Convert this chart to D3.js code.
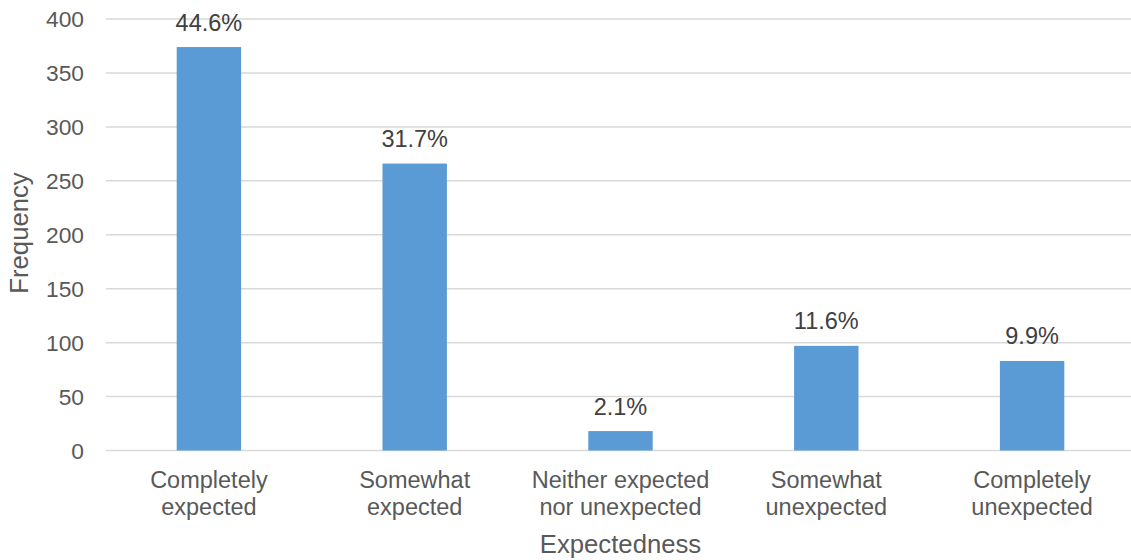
<!DOCTYPE html>
<html>
<head>
<meta charset="utf-8">
<script src="https://cdn.jsdelivr.net/npm/d3@7"></script>
<style>
  html, body { margin: 0; padding: 0; background: #fff; }
  svg { display: block; font-family: "Liberation Sans", Arial, sans-serif; }
</style>
</head>
<body>
<svg id="chart" width="1131" height="560"></svg>
<script>
// Responses by expectedness category
const categories = [
  ["Completely", "expected"],
  ["Somewhat", "expected"],
  ["Neither expected", "nor unexpected"],
  ["Somewhat", "unexpected"],
  ["Completely", "unexpected"]
];
const frequencies = [374, 266, 18, 97, 83];
const percentLabels = ["44.6%", "31.7%", "2.1%", "11.6%", "9.9%"];
const yTicks = [0, 50, 100, 150, 200, 250, 300, 350, 400];

const svg = d3.select("#chart");
const W = 1131, H = 560;
const margin = { left: 106, right: -4, top: 19, bottom: 109.5 };

const keys = categories.map((c, i) => i);
const x = d3.scaleBand()
  .domain(keys)
  .range([margin.left, W - margin.right])
  .padding(0);
const y = d3.scaleLinear()
  .domain([0, 400])
  .range([H - margin.bottom, margin.top]);

const barW = x.bandwidth() * 0.313;

// Horizontal gridlines
svg.append("g")
  .selectAll("line")
  .data(yTicks)
  .join("line")
  .attr("x1", margin.left)
  .attr("x2", W - margin.right)
  .attr("y1", d => y(d))
  .attr("y2", d => y(d))
  .attr("stroke", "#d9d9d9")
  .attr("stroke-width", 1.5);

// Y axis tick labels
const yAxis = d3.axisLeft(y).tickValues(yTicks).tickSize(0).tickPadding(0);
const yg = svg.append("g")
  .attr("transform", `translate(${margin.left - 22},0)`)
  .call(yAxis);
yg.select(".domain").remove();
yg.selectAll("text")
  .attr("fill", "#595959")
  .attr("font-size", "22.8px")
  .attr("font-family", "Liberation Sans, Arial, sans-serif")
  .attr("dy", "0.35em");

// Bars
svg.append("g")
  .selectAll("rect")
  .data(frequencies)
  .join("rect")
  .attr("x", (d, i) => x(i) + (x.bandwidth() - barW) / 2)
  .attr("y", d => y(d))
  .attr("width", barW)
  .attr("height", d => y(0) - y(d))
  .attr("fill", "#5b9bd5");

// Percentage labels above bars
svg.append("g")
  .selectAll("text")
  .data(frequencies)
  .join("text")
  .attr("x", (d, i) => x(i) + x.bandwidth() / 2)
  .attr("y", d => y(d) - 16.5)
  .attr("text-anchor", "middle")
  .attr("fill", "#404040")
  .attr("font-size", "23.5px")
  .text((d, i) => percentLabels[i]);

// Category labels (two lines each)
const cat = svg.append("g")
  .selectAll("text")
  .data(categories)
  .join("text")
  .attr("text-anchor", "middle")
  .attr("fill", "#595959")
  .attr("font-size", "23.5px");
cat.each(function(lines, i) {
  const t = d3.select(this);
  lines.forEach((ln, j) => {
    t.append("tspan")
      .attr("x", x(i) + x.bandwidth() / 2)
      .attr("y", 487.5 + j * 27)
      .text(ln);
  });
});

// Axis titles
svg.append("text")
  .attr("x", (margin.left + W - margin.right) / 2)
  .attr("y", 552.5)
  .attr("text-anchor", "middle")
  .attr("fill", "#595959")
  .attr("font-size", "25.7px")
  .text("Expectedness");

svg.append("text")
  .attr("transform", `translate(28,${233}) rotate(-90)`)
  .attr("text-anchor", "middle")
  .attr("fill", "#595959")
  .attr("font-size", "25.7px")
  .text("Frequency");
</script>
</body>
</html>
